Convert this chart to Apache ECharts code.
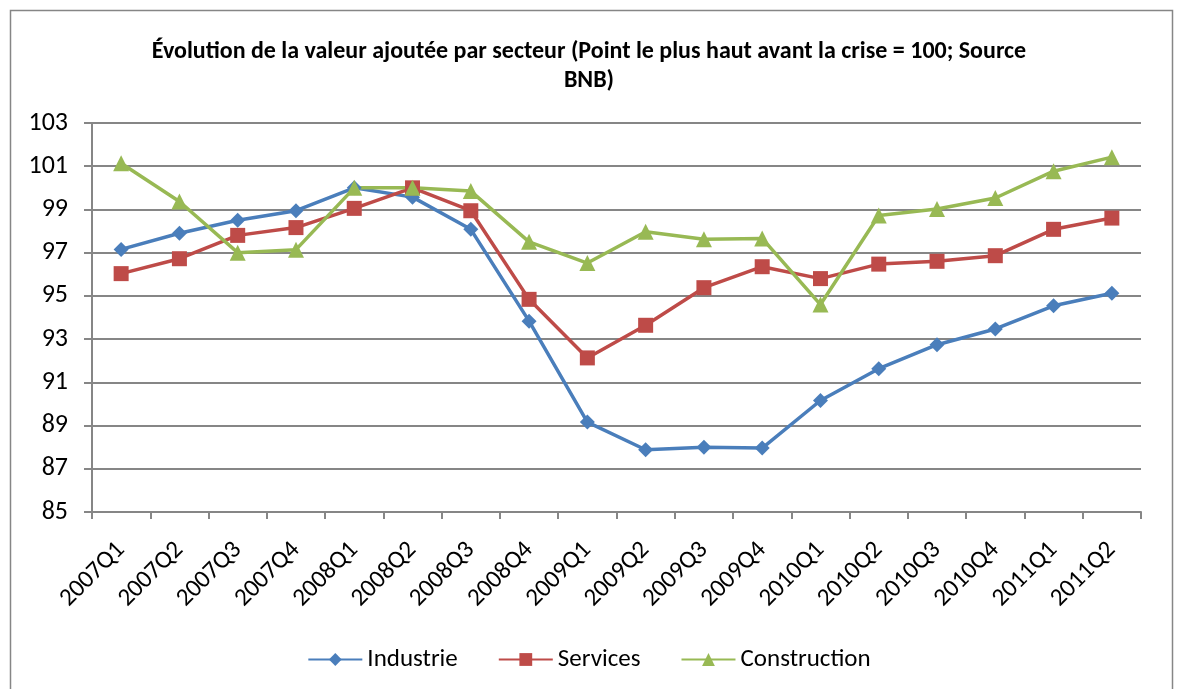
<!DOCTYPE html>
<html>
<head>
<meta charset="utf-8">
<script src="https://cdn.jsdelivr.net/npm/echarts@6/dist/echarts.min.js"></script>
<style>
  html, body { margin: 0; padding: 0; background: #fff; }
  #chart { width: 1178px; height: 689px; }
</style>
</head>
<body>
<div id="chart"></div>
<script>
// trimestres
var quarters = ['2007Q1','2007Q2','2007Q3','2007Q4','2008Q1','2008Q2','2008Q3','2008Q4',
  '2009Q1','2009Q2','2009Q3','2009Q4','2010Q1','2010Q2','2010Q3','2010Q4','2011Q1','2011Q2'];

var industrie = [97.15, 97.9, 98.5, 98.94, 100.0, 99.57, 98.08, 93.83,
  89.16, 87.88, 88.0, 87.96, 90.16, 91.63, 92.74, 93.47, 94.54, 95.12];
var services = [96.03, 96.72, 97.8, 98.16, 99.05, 100.0, 98.94, 94.84,
  92.13, 93.64, 95.38, 96.35, 95.8, 96.47, 96.6, 96.86, 98.08, 98.6];
var construction = [101.14, 99.37, 97.0, 97.14, 100.0, 100.0, 99.85, 97.5,
  96.52, 97.97, 97.62, 97.66, 94.6, 98.72, 99.02, 99.53, 100.77, 101.42];

var yTicks = { min: 85, max: 103, step: 2 };

var txtFont = 'Carlito, "Open Sans", sans-serif';

var chart = echarts.init(document.getElementById('chart'));

function serie(name, data, color, symbol, size){
  return {
    name: name, type: 'line', data: data,
    symbol: symbol, symbolSize: size,
    lineStyle: { color: color, width: 3.5 },
    itemStyle: { color: color },
    emphasis: { disabled: true }
  };
}

var option = {
  backgroundColor: '#ffffff',
  animation: false,
  textStyle: { fontFamily: txtFont },
  graphic: [{
    type: 'rect', left: 8, top: 8,
    shape: { width: 1162, height: 720 },
    style: { fill: 'none', stroke: '#868686', lineWidth: 1.5 },
    silent: true, z: -1
  }],
  title: {
    text: 'Évolution de la valeur ajoutée par secteur (Point le plus haut avant la crise = 100; Source\nBNB)',
    left: 'center', top: 32,
    textStyle: { fontFamily: txtFont, fontSize: 24, fontWeight: 'bold', color: '#000', lineHeight: 29 }
  },
  legend: {
    bottom: 12, left: 'center',
    itemWidth: 54, itemHeight: 16, itemGap: 40,
    textStyle: { fontFamily: txtFont, fontSize: 25, color: '#000' },
    data: ['Industrie', 'Services', 'Construction']
  },
  grid: { left: 92, right: 37, top: 123, bottom: 177, containLabel: false },
  xAxis: {
    type: 'category', data: quarters, boundaryGap: true,
    axisLine: { lineStyle: { color: '#868686', width: 2 } },
    axisTick: { show: true, length: 7, lineStyle: { color: '#868686', width: 2 } },
    axisLabel: { rotate: 45, margin: 34, fontSize: 25, color: '#000', interval: 0, fontFamily: txtFont }
  },
  yAxis: {
    type: 'value', min: yTicks.min, max: yTicks.max, interval: yTicks.step,
    axisLine: { show: true, lineStyle: { color: '#868686', width: 2 } },
    axisTick: { show: true, length: 8, lineStyle: { color: '#868686', width: 2 } },
    axisLabel: { fontSize: 26, color: '#000', margin: 24, fontFamily: txtFont },
    splitLine: { lineStyle: { color: '#868686', width: 2 } }
  },
  series: [
    serie('Industrie', industrie, '#4A7EBB', 'diamond', 15),
    serie('Services', services, '#BE4B48', 'rect', 15),
    serie('Construction', construction, '#98B954', 'triangle', 16)
  ]
};

chart.setOption(option);
</script>
</body>
</html>
